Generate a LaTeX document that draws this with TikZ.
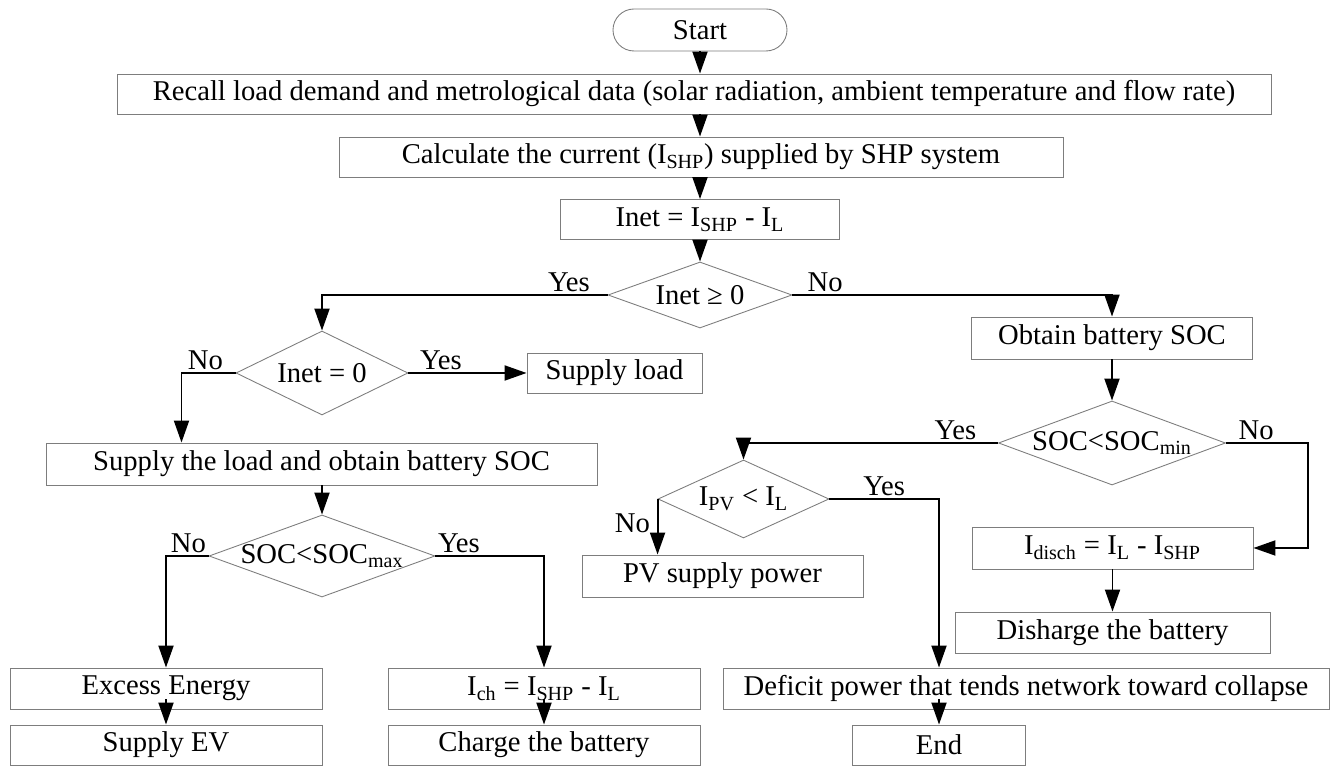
\documentclass[tikz,border=0pt]{standalone}
\usepackage{fontspec}
\setmainfont{Liberation Serif}
\usetikzlibrary{shapes.geometric, arrows.meta, positioning, calc}
\definecolor{boxgray}{RGB}{125,125,125}
\newcommand{\dlabel}[1]{\makebox[0pt]{#1}}

\begin{document}
\begin{tikzpicture}[
    >={Triangle[length=0.44cm, width=0.3cm]},
    font=\fontsize{16.3}{18}\selectfont,
    box/.style={rectangle, draw=boxgray, line width=0.5pt, minimum height=0.8cm, inner sep=2pt, align=center},
    terminal/.style={box, rounded corners=0.42cm, minimum height=0.84cm},
    decision/.style={diamond, draw=boxgray, line width=0.5pt, inner sep=0pt},
    arrow/.style={->, line width=1.1pt},
    yesno/.style={inner sep=1pt}
]
\useasboundingbox (0,0) rectangle (26.72,15.36);

% Top of the chart
\node[terminal, minimum width=3.48cm] (start) at (14.0, 14.76) {Start};
\node[box, minimum width=23.08cm] (recall) at (13.88, 13.48) {Recall load demand and metrological data (solar radiation, ambient temperature and flow rate)};
\node[box, minimum width=14.48cm] (calc) at (14.02, 12.22) {Calculate the current (I\textsubscript{SHP}) supplied by SHP system};
\node[box, minimum width=5.58cm] (inet) at (14.0, 10.97) {Inet = I\textsubscript{SHP} - I\textsubscript{L}};
\node[decision, minimum width=3.68cm, minimum height=1.32cm] (d1) at (14.0, 9.46) {\dlabel{Inet ≥ 0}};

% Surplus side
\node[decision, minimum width=3.44cm, minimum height=1.68cm] (d2) at (6.44, 7.9) {\dlabel{Inet = 0}};
\node[box, minimum width=3.5cm] (load) at (12.29, 7.9) {Supply load};
\node[box, minimum width=11.02cm, minimum height=0.84cm] (supply) at (6.43, 6.08) {Supply the load and obtain battery SOC};
\node[decision, minimum width=4.52cm, minimum height=1.64cm] (d3) at (6.44, 4.24) {\dlabel{SOC<SOC\textsubscript{max}}};
\node[box, minimum width=6.24cm, minimum height=0.82cm] (excess) at (3.32, 1.59) {Excess Energy};
\node[box, minimum width=6.24cm] (ev) at (3.32, 0.46) {Supply EV};
\node[box, minimum width=6.24cm, minimum height=0.82cm] (ich) at (10.88, 1.59) {I\textsubscript{ch} = I\textsubscript{SHP} - I\textsubscript{L}};
\node[box, minimum width=6.24cm] (charge) at (10.88, 0.46) {Charge the battery};

% Deficit side
\node[box, minimum width=5.62cm, minimum height=0.84cm] (soc) at (22.24, 8.6) {Obtain battery SOC};
\node[decision, minimum width=4.54cm, minimum height=1.68cm] (d4) at (22.24, 6.5) {\dlabel{SOC<SOC\textsubscript{min}}};
\node[decision, minimum width=3.42cm, minimum height=1.56cm] (d5) at (14.87, 5.38) {\dlabel{I\textsubscript{PV} < I\textsubscript{L}}};
\node[box, minimum width=5.62cm, minimum height=0.84cm] (pv) at (14.45, 3.84) {PV supply power};
\node[box, minimum width=5.62cm, minimum height=0.84cm] (disch) at (22.25, 4.4) {I\textsubscript{disch} = I\textsubscript{L} - I\textsubscript{SHP}};
\node[box, minimum width=6.3cm, minimum height=0.82cm] (dis) at (22.25, 2.71) {Disharge the battery};
\node[box, minimum width=12.12cm, minimum height=0.82cm] (deficit) at (20.52, 1.59) {Deficit power that tends network toward collapse};
\node[box, minimum width=3.46cm] (stop) at (18.78, 0.46) {End};

% Arrows - trunk
\draw[arrow] (start) -- (start |- recall.north);
\draw[arrow] (start |- recall.south) -- (start |- calc.north);
\draw[arrow] (start |- calc.south) -- (inet.north);
\draw[arrow] (inet) -- (d1);

% Inet >= 0
\draw[arrow] (d1.west) node[yesno, above left, xshift=-0.3cm] {Yes} -| (d2.north);
\draw[arrow] (d1.east) node[yesno, above right, xshift=0.25cm] {No} -| (soc.north);

% Inet = 0
\draw[arrow] (d2.east) node[yesno, above right, xshift=0.18cm] {Yes} -- (load.west);
\draw[arrow] (d2.west) node[yesno, above left, xshift=-0.2cm] {No} -| ([xshift=-2.8cm]supply.north);
\draw[arrow] (supply.south -| d3) -- (d3.north);

% SOC < SOCmax
\draw[arrow] (d3.west) node[yesno, above left] {No} -| (excess.north);
\draw[arrow] (d3.east) node[yesno, above right] {Yes} -| (ich.north);
\draw[arrow] ([yshift=0.2cm]excess.south) -- (ev.north);
\draw[arrow] ([yshift=0.2cm]ich.south) -- (charge.north);

% SOC < SOCmin
\draw[arrow] (soc) -- (d4);
\draw[arrow] (d4.west) node[yesno, above left, xshift=-0.38cm] {Yes} -| (d5.north);
\draw[arrow] (d4.east) node[yesno, above right, xshift=0.2cm] {No} -- ++(1.64,0) |- (disch.east);
\draw[arrow] (disch) -- (dis);

% IPV < IL
\draw[arrow] (d5.east) -| node[yesno, above, pos=0.25] {Yes} (stop |- deficit.north);
\draw[arrow] (d5.west) node[yesno, below left, xshift=-0.1cm, yshift=-0.25cm] {No} -- (d5.west |- pv.north);
\draw[arrow] ($(stop |- deficit.south)+(0,0.2)$) -- (stop.north);

\end{tikzpicture}
\end{document}
